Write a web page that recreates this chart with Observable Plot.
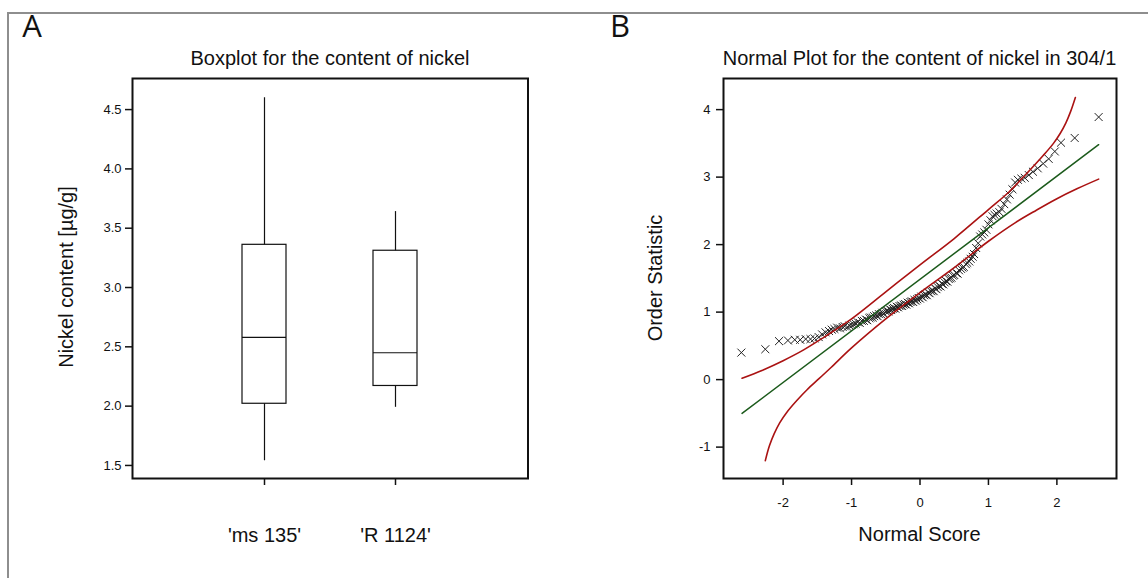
<!DOCTYPE html>
<html><head><meta charset="utf-8">
<script src="https://cdn.jsdelivr.net/npm/d3@7"></script>
<script src="https://cdn.jsdelivr.net/npm/@observablehq/plot@0.6"></script>
<style>
body{margin:0;background:#fff;}
#wrap{position:relative;width:1148px;height:578px;overflow:hidden;background:#fff;}
#pa,#pb{position:absolute;top:0;}
#pa{left:0}
#pb{left:574px}
#border{position:absolute;left:6.5px;top:11.5px;width:1300px;height:800px;border-top:2px solid #8e8e8e;border-left:2px solid #8e8e8e;z-index:2;pointer-events:none;}
</style></head><body>
<div id="wrap"><div id="pa"></div><div id="pb"></div><div id="border"></div></div>
<script>
// ---------- Panel A data ----------
const categories = ["'ms 135'", "'R 1124'"];
const whiskerLow = [1.54, 1.99];
const quartile1 = [2.02, 2.17];
const median = [2.58, 2.45];
const quartile3 = [3.36, 3.31];
const whiskerHigh = [4.60, 3.64];
const yTicksA = [1.5, 2.0, 2.5, 3.0, 3.5, 4.0, 4.5];

// ---------- Panel B data ----------
const normalScore = [
  -2.61,-2.26,-2.06,-1.93,-1.83,-1.75,-1.67,-1.60,-1.54,-1.48,-1.43,-1.38,-1.33,-1.29,
  -1.25,-1.21,-1.17,-1.13,-1.10,-1.06,-1.03,-1.00,-0.97,-0.94,-0.91,-0.88,-0.85,-0.82,-0.79,-0.77,
  -0.74,-0.72,-0.69,-0.67,-0.64,-0.62,-0.60,-0.57,-0.55,-0.53,-0.50,-0.48,-0.46,-0.44,-0.42,-0.40,
  -0.38,-0.36,-0.34,-0.32,-0.30,-0.28,-0.26,-0.24,-0.22,-0.20,-0.18,-0.16,-0.14,-0.12,-0.10,-0.08,
  -0.06,-0.04,-0.02,0.00,0.02,0.04,0.06,0.08,0.10,0.12,0.14,0.16,0.18,0.20,0.22,0.24,0.26,0.28,
  0.30,0.32,0.34,0.36,0.38,0.40,0.42,0.44,0.46,0.48,0.50,0.53,0.55,0.57,0.60,0.62,0.64,0.67,0.69,
  0.72,0.74,0.77,0.79,
  0.82,0.85,0.88,0.91,0.94,0.97,1.00,1.03,1.06,1.09,1.12,1.16,1.19,1.23,1.27,1.31,1.35,1.39,1.43,
  1.48,1.53,1.59,1.65,1.72,1.80,1.88,1.97,2.06,2.26,2.61
];
const orderStatistic = [
  0.40,0.45,0.57,0.58,0.59,0.59,0.60,0.60,0.61,0.63,0.67,0.70,0.72,0.74,
  0.75,0.77,0.76,0.78,0.79,0.78,0.80,0.81,0.82,0.83,0.85,0.84,0.87,0.87,0.89,0.88,
  0.91,0.92,0.92,0.94,0.95,0.94,0.97,0.97,0.99,0.98,1.01,1.02,1.01,1.04,1.03,1.05,
  1.06,1.05,1.08,1.07,1.09,1.10,1.09,1.11,1.12,1.11,1.14,1.13,1.15,1.16,1.15,1.18,
  1.17,1.19,1.21,1.20,1.23,1.22,1.25,1.26,1.25,1.29,1.28,1.31,1.32,1.31,1.35,1.34,1.37,1.39,
  1.38,1.42,1.41,1.44,1.46,1.45,1.49,1.50,1.51,1.54,1.55,1.58,1.57,1.62,1.64,1.66,1.67,1.71,1.73,
  1.75,1.79,1.82,1.86,
  1.95,2.02,2.12,2.15,2.18,2.22,2.30,2.36,2.42,2.44,2.46,2.48,2.53,2.60,2.67,2.74,2.82,2.92,2.96,
  2.98,2.99,3.03,3.08,3.13,3.20,3.27,3.38,3.51,3.58,3.89
];
const fitScore = [-2.60, 2.61];
const fitValue = [-0.50, 3.48];
const upperScore = [-2.60,-2.30,-2.00,-1.70,-1.40,-1.00,-0.50,0.00,0.50,1.00,1.30,1.50,1.80,1.95,2.05,2.13,2.20,2.27];
const upperValue = [0.02,0.14,0.28,0.44,0.63,0.90,1.30,1.70,2.09,2.52,2.78,2.99,3.32,3.50,3.65,3.80,3.97,4.18];
const lowerScore = [-2.26,-2.20,-2.13,-2.05,-1.95,-1.80,-1.65,-1.48,-1.30,-1.00,-0.50,0.00,0.50,1.00,1.40,1.70,2.00,2.30,2.61];
const lowerValue = [-1.20,-0.98,-0.80,-0.64,-0.49,-0.31,-0.15,0.01,0.18,0.47,0.90,1.29,1.66,2.05,2.33,2.51,2.68,2.83,2.97];
const xTicksB = [-2, -1, 0, 1, 2];
const yTicksB = [-1, 0, 1, 2, 3, 4];

const FONT = "'Liberation Sans', Arial, sans-serif";
const INK = "#111";
const RED = "#aa1212";
const GREEN = "#1b5a1b";

// ---------- Panel A ----------
const boxRows = categories.map((c, i) => ({cat: c, lo: whiskerLow[i], q1: quartile1[i], med: median[i], q3: quartile3[i], hi: whiskerHigh[i]}));
const svgA = Plot.plot({
  width: 574, height: 578,
  marginTop: 78, marginRight: 46.5, marginBottom: 100, marginLeft: 132,
  style: {fontFamily: FONT, background: "transparent", color: INK},
  x: {type: "band", domain: categories, paddingInner: 2/3, paddingOuter: 5/6, label: null},
  y: {domain: [1.39, 4.762], label: null},
  marks: [
    Plot.ruleX(boxRows, {x: "cat", y1: "lo", y2: "hi", stroke: INK, strokeWidth: 1.2}),
    Plot.barY(boxRows, {x: "cat", y1: "q1", y2: "q3", fill: "white", stroke: INK, strokeWidth: 1.2}),
    Plot.tickY(boxRows, {x: "cat", y: "med", stroke: INK, strokeWidth: 1.2}),
    Plot.frame({stroke: INK, strokeWidth: 2}),
    Plot.axisY({ticks: yTicksA, tickFormat: d => d.toFixed(1), tickSize: 7, tickPadding: 4, fontSize: 13, strokeWidth: 1.5, label: null}),
    Plot.axisX({tickSize: 7, tickPadding: 42, fontSize: 20, strokeWidth: 1.5, label: null})
  ]
});
document.getElementById("pa").appendChild(svgA);
const sA = d3.select(svgA);
sA.append("text").attr("x", 32).attr("y", 37).attr("text-anchor", "middle").attr("font-family", "'Open Sans', sans-serif").attr("font-size", 31).attr("fill", INK).text("A");
sA.append("text").attr("x", 330).attr("y", 65).attr("text-anchor", "middle").attr("font-family", FONT).attr("font-size", 20).attr("fill", INK).text("Boxplot for the content of nickel");
sA.append("text").attr("transform", "translate(66,277) rotate(-90)").attr("dy", "0.35em").attr("text-anchor", "middle").attr("font-family", FONT).attr("font-size", 20).attr("fill", INK).text("Nickel content [µg/g]");

// ---------- Panel B ----------
const points = normalScore.map((z, i) => ({z, v: orderStatistic[i]}));
const fitRows = fitScore.map((z, i) => ({z, v: fitValue[i]}));
const upperRows = upperScore.map((z, i) => ({z, v: upperValue[i]}));
const lowerRows = lowerScore.map((z, i) => ({z, v: lowerValue[i]}));
const svgB = Plot.plot({
  width: 574, height: 578,
  marginTop: 78, marginRight: 32, marginBottom: 100, marginLeft: 149,
  style: {fontFamily: FONT, background: "transparent", color: INK},
  x: {domain: [-2.871, 2.871], label: null},
  y: {domain: [-1.465, 4.461], label: null},
  marks: [
    Plot.dot(points, {x: "z", y: "v", symbol: "times", r: 3.7, stroke: "#222", strokeWidth: 1}),
    Plot.line(upperRows, {x: "z", y: "v", stroke: RED, strokeWidth: 1.6, curve: "catmull-rom"}),
    Plot.line(lowerRows, {x: "z", y: "v", stroke: RED, strokeWidth: 1.6, curve: "catmull-rom"}),
    Plot.line(fitRows, {x: "z", y: "v", stroke: GREEN, strokeWidth: 1.5}),
    Plot.frame({stroke: INK, strokeWidth: 2}),
    Plot.axisY({ticks: yTicksB, tickFormat: d => String(d), tickSize: 7, tickPadding: 6, fontSize: 13, strokeWidth: 1.5, label: null}),
    Plot.axisX({ticks: xTicksB, tickFormat: d => String(d), tickSize: 7, tickPadding: 12, fontSize: 13, strokeWidth: 1.5, label: null})
  ]
});
document.getElementById("pb").appendChild(svgB);
const sB = d3.select(svgB);
sB.append("text").attr("x", 46).attr("y", 37).attr("text-anchor", "middle").attr("font-family", "'Open Sans', sans-serif").attr("font-size", 31).attr("fill", INK).text("B");
sB.append("text").attr("x", 345.5).attr("y", 65).attr("text-anchor", "middle").attr("font-family", FONT).attr("font-size", 20).attr("fill", INK).text("Normal Plot for the content of nickel in 304/1");
sB.append("text").attr("transform", "translate(80.5,278) rotate(-90)").attr("dy", "0.35em").attr("text-anchor", "middle").attr("font-family", FONT).attr("font-size", 20).attr("fill", INK).text("Order Statistic");
sB.append("text").attr("x", 345.5).attr("y", 541).attr("text-anchor", "middle").attr("font-family", FONT).attr("font-size", 20).attr("fill", INK).text("Normal Score");
</script></body></html>
